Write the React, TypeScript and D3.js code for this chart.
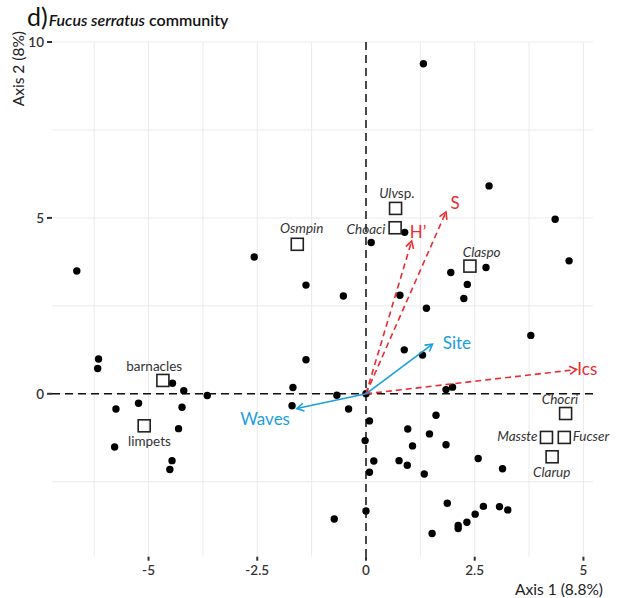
import React from 'react';
import * as d3 from 'd3';

// Site scores (points)
const siteX = [-6.65, -2.57, -1.38, 1.32, 2.83, 4.35, 4.67, 2.76, 1.95, 2.33, 2.25, 0.78, -0.52, 0.12, 0.89, 1.39,
  -6.15, -6.17, -4.45, -4.19, -3.65, -5.23, -5.75, -4.23, -4.31, -5.78, -4.46, -4.51, -1.38, -1.68, -1.70,
  3.79, 0.88, 1.30, 1.84, 1.99, -0.67, -0.40, 0.08, 1.61, 0.96, 1.46, -0.02, 1.07, 1.84, 0.18, 0.76, 0.95,
  0.08, 1.34, 2.58, 3.14, 1.87, 0.0, -0.73, 2.70, 2.51, 3.07, 3.26, 2.32, 2.12, 2.12, 1.52, 0.0];
const siteY = [3.49, 3.89, 3.09, 9.38, 5.91, 4.96, 3.78, 3.59, 3.45, 3.11, 2.71, 2.80, 2.78, 4.30, 4.59, 2.43,
  0.99, 0.72, 0.30, 0.09, -0.05, -0.27, -0.43, -0.38, -0.99, -1.51, -1.90, -2.15, 0.97, 0.18, -0.34,
  1.66, 1.25, 1.10, 0.12, 0.19, -0.04, -0.43, -0.77, -0.61, -1.00, -1.14, -1.33, -1.48, -1.45, -1.91, -1.90, -2.03,
  -2.23, -2.28, -1.84, -2.13, -3.11, -3.33, -3.56, -3.20, -3.42, -3.21, -3.30, -3.65, -3.74, -3.83, -3.97, 0.0];

// Species scores (open squares)
const speciesItalicPart = ['Osmpin', 'Ulv', 'Choaci', 'Claspo', '', '', 'Chocri', 'Masste', 'Fucser', 'Clarup'];
const speciesPlainPart = ['', 'sp.', '', '', 'barnacles', 'limpets', '', '', '', ''];
const speciesX = [-1.58, 0.68, 0.67, 2.39, -4.67, -5.10, 4.59, 4.15, 4.56, 4.28];
const speciesY = [4.25, 5.27, 4.72, 3.63, 0.38, -0.91, -0.56, -1.24, -1.24, -1.79];
const speciesLabelX = [-1.48, 0.71, 0.0, 2.66, -4.87, -4.98, 4.46, 3.48, 5.17, 4.27];
const speciesLabelY = [4.70, 5.69, 4.69, 4.01, 0.77, -1.34, -0.15, -1.22, -1.22, -2.24];

// Environmental vectors
const vecNames = ['S', 'H’', 'Ics', 'Site', 'Waves'];
const vecX = [1.84, 1.05, 4.84, 1.53, -1.59];
const vecY = [5.17, 4.34, 0.69, 1.41, -0.42];
const vecLabelX = [2.05, 1.20, 5.09, 2.09, -2.32];
const vecLabelY = [5.41, 4.60, 0.69, 1.45, -0.73];
const vecGroup = ['diversity', 'diversity', 'diversity', 'physical', 'physical'];

// Axes
const xTicks = [-5, -2.5, 0, 2.5, 5];
const xTickLabels = ['-5', '-2.5', '0', '2.5', '5'];
const xMinor = [-6.25, -3.75, -1.25, 1.25, 3.75];
const yTicks = [0, 5, 10];
const yTickLabels = ['0', '5', '10'];
const yMinor = [-2.5, 2.5, 7.5];

const W = 618, H = 598;
const FONT = 'Lato, "Open Sans", sans-serif';
const RED = '#ec2a30';
const BLUE = '#1a9fe0';

export default function App() {
  const x = d3.scaleLinear().domain([-7.22, 5.22]).range([52, 593]);
  const y = d3.scaleLinear().domain([-4.63, 10.0]).range([556.7, 42]);
  const [x0, x1] = x.range();
  const [yb, yt] = y.range();

  const arrowHead = (tx: number, ty: number) => {
    const ox = x(0), oy = y(0);
    const ang = Math.atan2(ty - oy, tx - ox);
    const L = 8, a = Math.PI / 6;
    const p1 = [tx - L * Math.cos(ang - a), ty - L * Math.sin(ang - a)];
    const p2 = [tx - L * Math.cos(ang + a), ty - L * Math.sin(ang + a)];
    return `M${p1[0]},${p1[1]}L${tx},${ty}L${p2[0]},${p2[1]}`;
  };

  return (
    <svg width={W} height={H} style={{ position: 'absolute', left: 0, top: 0, background: '#fff' }} fontFamily={FONT}>
      {/* grid */}
      {[...xTicks, ...xMinor].map((v, i) => (
        <line key={'gx' + i} x1={x(v)} x2={x(v)} y1={yt} y2={yb} stroke="#ebebeb" strokeWidth={1} />
      ))}
      {[...yTicks, ...yMinor].map((v, i) => (
        <line key={'gy' + i} x1={x0} x2={x1} y1={y(v)} y2={y(v)} stroke="#ebebeb" strokeWidth={1} />
      ))}
      {/* zero lines */}
      <line x1={x0} x2={x1} y1={y(0)} y2={y(0)} stroke="#111" strokeWidth={1.5} strokeDasharray="8,5" />
      <line x1={x(0)} x2={x(0)} y1={yt} y2={yb} stroke="#111" strokeWidth={1.5} strokeDasharray="8,5" />

      {/* axis ticks */}
      {xTicks.map((v, i) => (
        <g key={'xt' + i}>
          <line x1={x(v)} x2={x(v)} y1={yb} y2={yb + 4} stroke="#333" strokeWidth={2} />
          <text x={x(v)} y={yb + 18} textAnchor="middle" fontSize={13.5} fontWeight={600} fill="#333">{xTickLabels[i]}</text>
        </g>
      ))}
      {yTicks.map((v, i) => (
        <g key={'yt' + i}>
          <line x1={x0 - 5} x2={x0} y1={y(v)} y2={y(v)} stroke="#333" strokeWidth={2} />
          <text x={x0 - 8} y={y(v)} dy="0.35em" textAnchor="end" fontSize={13.5} fontWeight={600} fill="#333">{yTickLabels[i]}</text>
        </g>
      ))}

      {/* points */}
      {siteX.map((v, i) => (
        <circle key={'p' + i} cx={x(v)} cy={y(siteY[i])} r={3.7} fill="#000" />
      ))}

      {/* species squares */}
      {speciesX.map((v, i) => (
        <rect key={'s' + i} x={x(v) - 6} y={y(speciesY[i]) - 6} width={12} height={12} fill="none" stroke="#222" strokeWidth={1.6} />
      ))}
      {speciesX.map((v, i) => (
        <text key={'sl' + i} x={x(speciesLabelX[i])} y={y(speciesLabelY[i])} dy="0.35em" textAnchor="middle" fontSize={13.5} fill="#333">
          {speciesItalicPart[i] && <tspan fontStyle="italic">{speciesItalicPart[i]}</tspan>}
          {speciesPlainPart[i] && <tspan>{speciesPlainPart[i]}</tspan>}
        </text>
      ))}

      {/* vectors */}
      {vecX.map((v, i) => {
        const col = vecGroup[i] === 'diversity' ? RED : BLUE;
        const dash = vecGroup[i] === 'diversity' ? '6,4' : undefined;
        const tx = x(v), ty = y(vecY[i]);
        return (
          <g key={'v' + i}>
            <line x1={x(0)} y1={y(0)} x2={tx} y2={ty} stroke={col} strokeWidth={1.6} strokeDasharray={dash} />
            <path d={arrowHead(tx, ty)} fill="none" stroke={col} strokeWidth={1.6} />
            <text x={x(vecLabelX[i])} y={y(vecLabelY[i])} dy="0.35em" textAnchor="middle" fontSize={17} fill={col}>{vecNames[i]}</text>
          </g>
        );
      })}

      {/* axis titles */}
      <text x={603} y={595} textAnchor="end" fontSize={15.5} fill="#222">Axis 1 (8.8%)</text>
      <text transform={`translate(24,31) rotate(-90)`} textAnchor="end" fontSize={15.5} fill="#222">Axis 2 (8%)</text>

      {/* title */}
      <text x={27} y={26} fontSize={25} fill="#111">d)
        <tspan fontSize={16} fontStyle="italic" fontWeight={600} dx={1}>Fucus serratus</tspan>
        <tspan fontSize={16} fontWeight={600}> community</tspan>
      </text>
    </svg>
  );
}
